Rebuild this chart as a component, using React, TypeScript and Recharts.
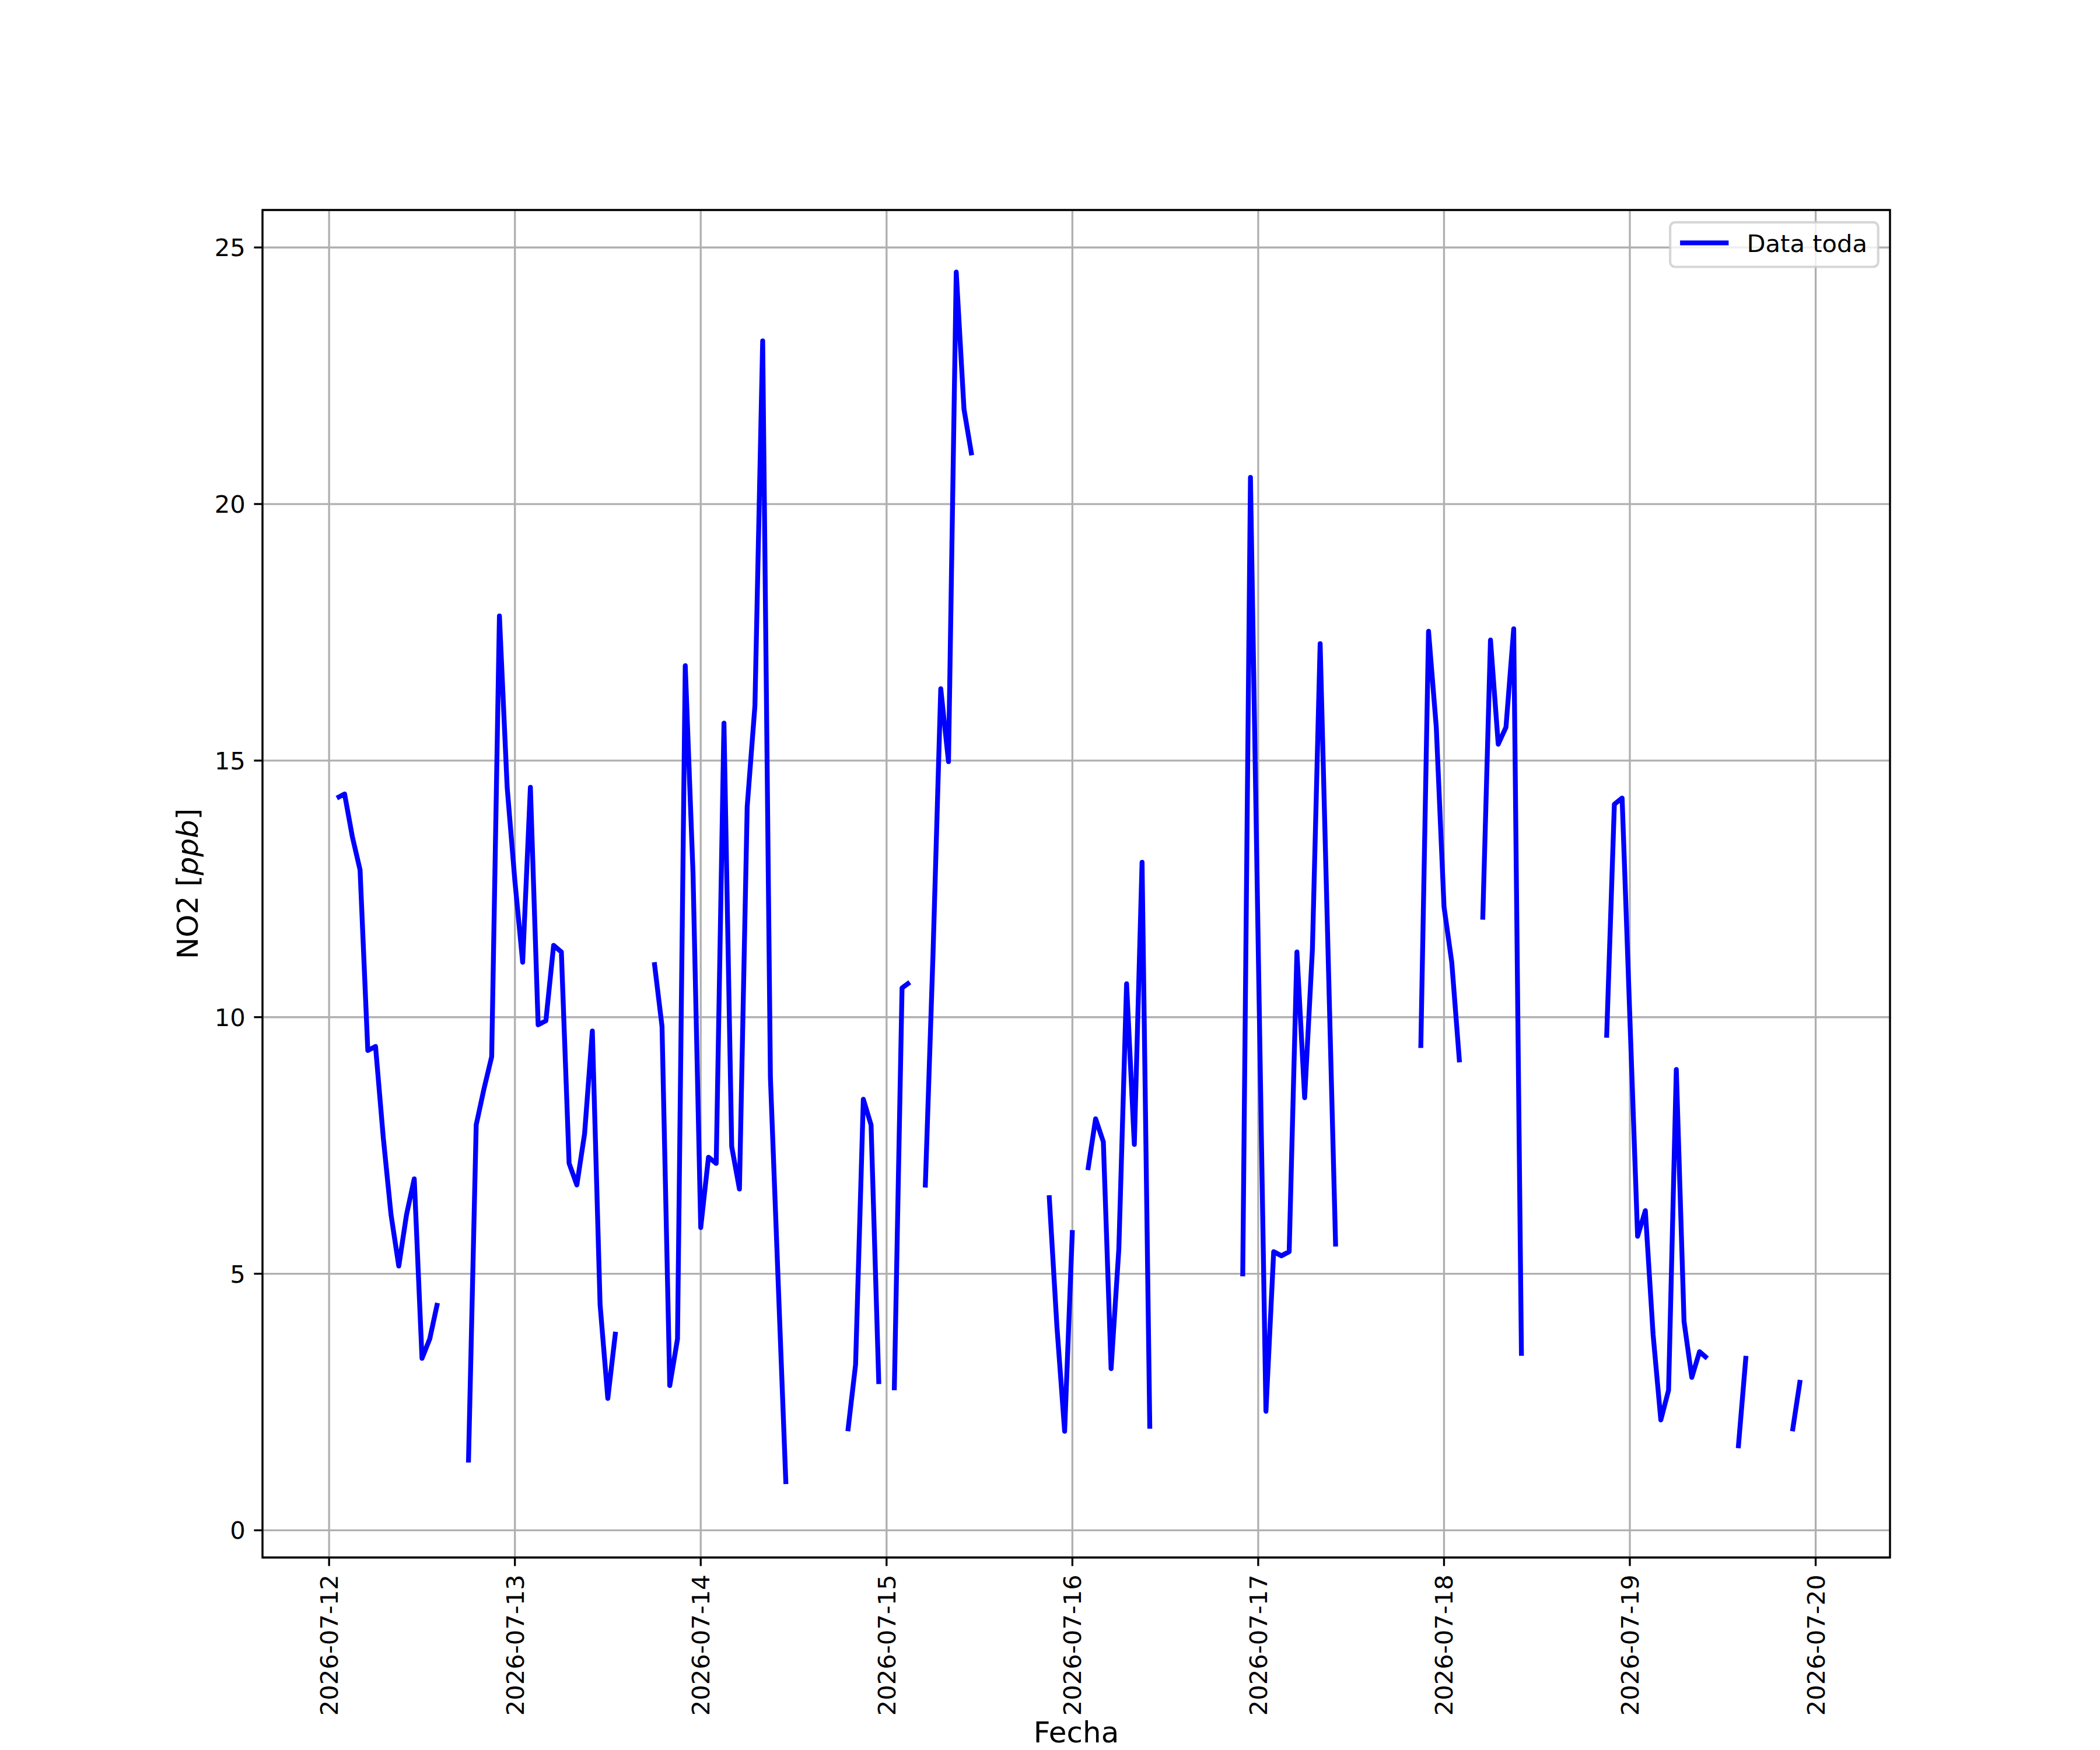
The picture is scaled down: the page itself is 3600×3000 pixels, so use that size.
import React from 'react';
import {
  LineChart,
  Line,
  XAxis,
  YAxis,
  CartesianGrid,
  ReferenceArea,
  Legend,
  Label,
} from 'recharts';

const FONT = '"DejaVu Sans", "Liberation Sans", sans-serif';

// ---- data (hourly NO2 readings, hours counted from 2026-07-12 00:00) ----
const seriesName = 'Data toda';
const segmentStarts = [1, 18, 42, 67, 73, 77, 93, 98, 118, 141, 149, 165, 182, 189];
const seg01 = [14.27, 14.35, 13.52, 12.87, 9.35, 9.43, 7.65, 6.15, 5.15, 6.15, 6.85, 3.35, 3.73, 4.43];
const seg02 = [1.32, 7.9, 8.6, 9.23, 17.82, 14.48, 12.65, 11.07, 14.48, 9.85, 9.93, 11.4, 11.27, 7.15, 6.73, 7.73, 9.73, 4.4, 2.57, 3.87];
const seg03 = [11.07, 9.82, 2.82, 3.73, 16.85, 12.82, 5.9, 7.27, 7.15, 15.73, 7.48, 6.65, 14.1, 16.07, 23.18, 8.82, 4.85, 0.9];
const seg04 = [1.93, 3.23, 8.4, 7.9, 2.85];
const seg05 = [2.73, 10.57, 10.68];
const seg06 = [6.68, 11.23, 16.4, 14.98, 24.52, 21.85, 20.95];
const seg07 = [6.53, 3.98, 1.93, 5.85];
const seg08 = [7.02, 8.02, 7.57, 3.15, 5.48, 10.65, 7.52, 13.02, 1.98];
const seg09 = [4.95, 20.52, 11.4, 2.32, 5.43, 5.35, 5.43, 11.27, 8.43, 11.32, 17.28, 11.4, 5.53];
const seg10 = [9.4, 17.52, 15.65, 12.15, 11.07, 9.12];
const seg11 = [11.9, 17.35, 15.32, 15.65, 17.57, 3.4];
const seg12 = [9.6, 14.15, 14.27, 10.0, 5.73, 6.23, 3.82, 2.15, 2.73, 8.98, 4.07, 2.98, 3.48, 3.35];
const seg13 = [1.6, 3.4];
const seg14 = [1.93, 2.93];
const segments = [seg01, seg02, seg03, seg04, seg05, seg06, seg07, seg08, seg09, seg10, seg11, seg12, seg13, seg14];

const dayTicks = [0, 24, 48, 72, 96, 120, 144, 168, 192];
const dayLabels = [
  '2026-07-12',
  '2026-07-13',
  '2026-07-14',
  '2026-07-15',
  '2026-07-16',
  '2026-07-17',
  '2026-07-18',
  '2026-07-19',
  '2026-07-20',
];
const yTicks = [0, 5, 10, 15, 20, 25];
const xDomain = [-8.6, 201.6];
const yDomain = [-0.53, 25.73];

// table for the chart: a null row between segments breaks the line
const data: { h: number; v: number | null }[] = [];
segments.forEach((vals, s) => {
  if (s > 0) data.push({ h: segmentStarts[s] - 1, v: null });
  vals.forEach((v, i) => data.push({ h: segmentStarts[s] + i, v }));
});

const TICK_FS = 41.67;
const LABEL_FS = 50;
const LINE_W = 8.33;

const XTick = (props: any) => {
  const { x, payload } = props;
  const idx = dayTicks.indexOf(payload.value);
  const y = 2699.2;
  return (
    <text
      x={x}
      y={y}
      dy="0.36em"
      transform={`rotate(-90 ${x} ${y})`}
      textAnchor="end"
      fontSize={TICK_FS}
      fontFamily={FONT}
      fill="#000"
    >
      {idx >= 0 ? dayLabels[idx] : ''}
    </text>
  );
};

const YTick = (props: any) => {
  const { y, payload } = props;
  return (
    <text
      x={420.8}
      y={y}
      dy="0.36em"
      textAnchor="end"
      fontSize={TICK_FS}
      fontFamily={FONT}
      fill="#000"
    >
      {payload.value}
    </text>
  );
};

const YLabel = () => (
  <text
    x={339}
    y={1515}
    transform="rotate(-90 339 1515)"
    textAnchor="middle"
    fontSize={LABEL_FS}
    fontFamily={FONT}
    fill="#000"
  >
    NO2 [<tspan fontStyle="italic">ppb</tspan>]
  </text>
);

const XLabel = () => (
  <text
    x={1845}
    y={2987}
    textAnchor="middle"
    fontSize={LABEL_FS}
    fontFamily={FONT}
    fill="#000"
  >
    Fecha
  </text>
);

const LegendBox = () => (
  <svg width={362} height={82} style={{ display: 'block', overflow: 'visible' }}>
    <rect
      x={2.1}
      y={2.1}
      width={356.6}
      height={76.4}
      rx={8.3}
      ry={8.3}
      fill="#ffffff"
      fillOpacity={0.8}
      stroke="#cccccc"
      strokeOpacity={0.8}
      strokeWidth={4.17}
    />
    <line x1={19.1} x2={102.4} y1={37.3} y2={37.3} stroke="#0000ff" strokeWidth={LINE_W} strokeLinecap="butt" />
    <text x={133.5} y={53} fontSize={TICK_FS} fontFamily={FONT} fill="#000">
      {seriesName}
    </text>
  </svg>
);

export default function App() {
  return (
    <div
      style={{
        position: 'absolute',
        left: 0,
        top: 0,
        width: 3600,
        height: 3000,
        background: '#ffffff',
      }}
    >
      <LineChart
        width={3600}
        height={3000}
        data={data}
        margin={{ top: 360, right: 360, bottom: 0, left: 0 }}
      >
        <CartesianGrid stroke="#b0b0b0" strokeWidth={3.33} />
        <XAxis
          dataKey="h"
          type="number"
          domain={xDomain}
          allowDataOverflow
          ticks={dayTicks}
          interval={0}
          height={330}
          tickSize={14.6}
          tickLine={{ stroke: '#000', strokeWidth: 3.33 }}
          axisLine={false}
          tick={<XTick />}
        >
          <Label content={<XLabel />} />
        </XAxis>
        <YAxis
          type="number"
          domain={yDomain}
          allowDataOverflow
          ticks={yTicks}
          interval={0}
          width={450}
          tickSize={14.6}
          tickLine={{ stroke: '#000', strokeWidth: 3.33 }}
          axisLine={false}
          tick={<YTick />}
        >
          <Label content={<YLabel />} />
        </YAxis>
        <Line
          type="linear"
          dataKey="v"
          name={seriesName}
          stroke="#0000ff"
          strokeWidth={LINE_W}
          strokeLinejoin="round"
          strokeLinecap="butt"
          dot={false}
          activeDot={false}
          connectNulls={false}
          isAnimationActive={false}
        />
        <ReferenceArea
          x1={xDomain[0]}
          x2={xDomain[1]}
          y1={yDomain[0]}
          y2={yDomain[1]}
          fill="none"
          fillOpacity={0}
          stroke="#000000"
          strokeWidth={3.33}
          ifOverflow="visible"
        />
        <Legend
          layout="horizontal"
          verticalAlign="middle"
          align="center"
          content={<LegendBox />}
          wrapperStyle={{ position: 'absolute', left: 2860.9, top: 378.7, width: 362, height: 82 }}
        />
      </LineChart>
    </div>
  );
}
